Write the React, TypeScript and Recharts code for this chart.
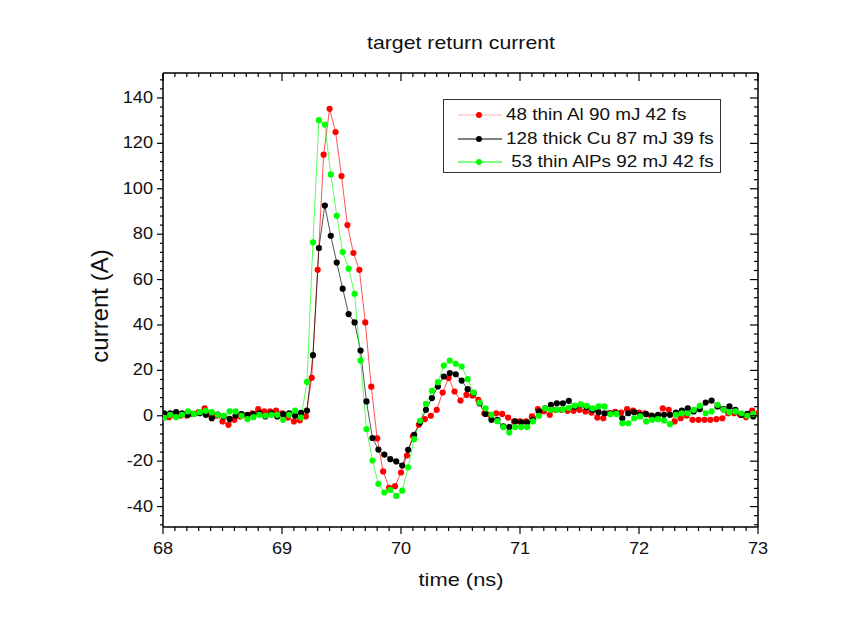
import { LineChart, Line, XAxis, YAxis, Legend } from 'recharts'

// sampling grid of the scope traces (ns)
const T_STEP = 0.05
const T0_AL = 68.0
const T0_SHOTS = 68.01

// shot 48: thin Al, 90 mJ, 42 fs
const currentAl = [
  -0.3, -0.6, 0, 0.1, 0.1, 0.8, 1.6, 3.3, 0.4, 0,
  -2.5, -4, -1.8, -0.3, 0.1, 1.1, 2.9, 1.9, 1.9, 2.3,
  1.1, -0.8, -2.5, -2, -0.3, 16.7, 64.3, 115, 135.2, 125,
  105.6, 84, 71.7, 64.3, 41.1, 12.8, -10, -24.5, -31.7, -31,
  -25, -17.5, -9, -4, -1.5, 0, 2.6, 10.2, 16.6, 10.7,
  6.7, 9.2, 8.9, 7, 1.1, 0.4, 1.1, 0.8, -0.8, -2.5,
  -2.5, -2.5, -0.3, 2.9, 2, 0.4, 2.6, 2.6, 2.2, 2.2,
  2.6, 1.9, 1.4, -0.8, -1.1, 1.1, 1.7, 1.4, 2.9, 2.3,
  1.4, 1.1, 0.1, -0.6, 3.3, 2.6, -2.5, -1.1, 0.1, -1.8,
  -1.8, -1.8, -1.8, -1.5, -1.1, 1.1, 1.1, 0.4, -0.6, 2.3,
  1.1,
]

// shot 128: thick Cu, 87 mJ, 39 fs
const currentCu = [
  1.1, 1.1, 1.6, 1.1, 0.4, 0.8, 1.1, 0.4, -1.1, 0.5,
  -0.3, -1.4, 0.1, 0.7, 0.4, 0.7, 1.1, -0.3, 1.1, -0.3,
  0.7, 1.1, 0, 1.3, 2.3, 26.7, 73.9, 92.6, 79.3, 67.5,
  56, 44.8, 41.1, 28.7, 6.3, -9.8, -14.9, -17.1, -19.1, -20.1,
  -21.9, -15, -8.4, -3, 2.6, 7.8, 12.9, 17.3, 18.8, 18.3,
  15.5, 11.7, 10, 5.5, 0.8, -1.8, -1.8, -4.7, -5, -2.5,
  -2.9, -2.9, -1.8, 1.9, 3.3, 4.8, 5.5, 5.5, 6.6, 4,
  4.8, 3.8, 2.6, 1.6, 1.1, 1.1, 1.1, -1.1, 1.1, 1.6,
  0.4, 0.7, 0, 0.4, 0.4, 0.4, 1.4, 2.3, 3.3, 1.9,
  2.9, 5.8, 6.7, 4.1, 2.9, 4.1, 2.6, 0.4, 0.8, -0.3,
]

// shot 53: thin AlPs, 92 mJ, 42 fs
const currentAlPs = [
  -0.9, 0.4, -0.6, 0.4, 1.9, 0.8, 1.6, 2.2, 1.6, 0.4,
  0, 1.9, 1.9, 0, -1.5, -0.6, 0.4, 0, 0.4, 0.4,
  -1.8, 0.4, 2.3, -0.8, 14.9, 76.4, 130.2, 128.3, 106.3, 88.1,
  72.1, 64.8, 53.7, 24.3, -5.9, -19.7, -30, -33.8, -32.7, -35.3,
  -33, -22.7, -10.3, -2.2, 5.2, 11, 14.8, 22.1, 24.3, 22.9,
  21.7, 16.1, 10.2, 5.8, 3.3, 0.4, -2.4, -5, -7.4, -5,
  -5, -5, -2.5, 0, 3.3, 2.6, 2.6, 2.8, 3.5, 4.5,
  5, 4.4, 3.3, 4.1, 4.1, 0.7, 0.8, -3.3, -3.3, -1.1,
  -0.3, -2.5, -1.8, -1.5, -2.1, -3.7, 0.4, 1.1, 1.1, 2.6,
  4.4, 1.1, 1.9, 4.8, 2.6, 1.6, 1.9, 1.1, 0, 0.8,
]

const X_DOMAIN: [number, number] = [68, 73]
const Y_DOMAIN: [number, number] = [-49, 151]
const X_MAJOR = [68, 69, 70, 71, 72, 73]
const Y_MAJOR = [-40, -20, 0, 20, 40, 60, 80, 100, 120, 140]
const X_MINOR_STEP = 0.1
const Y_MINOR_STEP = 4

const xTicks = Array.from({ length: 51 }, (_, i) => +(X_DOMAIN[0] + i * X_MINOR_STEP).toFixed(1))
const yTicks = Array.from({ length: 50 }, (_, i) => -48 + i * Y_MINOR_STEP)

const toSeries = (t0: number, values: number[]) =>
  values.map((v, i) => ({ t: +(t0 + i * T_STEP).toFixed(3), v }))

const SERIES = [
  { name: '48 thin Al 90 mJ 42 fs', color: '#ff0000', legendLine: 'rgba(255,0,0,0.3)', data: toSeries(T0_AL, currentAl) },
  { name: '128 thick Cu 87 mJ 39 fs', color: '#000000', legendLine: '#000000', data: toSeries(T0_SHOTS, currentCu) },
  { name: ' 53 thin AlPs 92 mJ 42 fs', color: '#00ff00', legendLine: '#00ff00', data: toSeries(T0_SHOTS, currentAlPs) },
]

const FONT = "'Liberation Sans', Arial, sans-serif"
const STRETCH = 1.15
const INK = '#111'

type TickProps = { x: number; y: number; payload: { value: number } }

const isMajorX = (v: number) => X_MAJOR.some((m) => Math.abs(m - v) < 1e-6)
const isMajorY = (v: number) => Y_MAJOR.includes(v)

const tickText = (x: number, y: number, anchor: 'end' | 'middle', label: number) => (
  <text
    transform={`translate(${x},${y}) scale(${STRETCH},1)`}
    textAnchor={anchor}
    dominantBaseline="central"
    fontFamily={FONT}
    fontSize={15.8}
    fill={INK}
  >
    {label}
  </text>
)

function BottomTick({ x, y, payload }: TickProps) {
  const major = isMajorX(payload.value)
  return (
    <g>
      <line x1={x} y1={y} x2={x} y2={y + (major ? 7 : 4)} stroke="#000" strokeWidth={1.2} />
      {major && tickText(x, y + 22, 'middle', payload.value)}
    </g>
  )
}

function TopTick({ x, y, payload }: TickProps) {
  const major = isMajorX(payload.value)
  return <line x1={x} y1={y} x2={x} y2={y + (major ? 8 : 4)} stroke="#000" strokeWidth={1.2} />
}

function LeftTick({ x, y, payload }: TickProps) {
  const major = isMajorY(payload.value)
  return (
    <g>
      <line x1={x} y1={y} x2={x - (major ? 6 : 3)} y2={y} stroke="#000" strokeWidth={1.2} />
      {major && tickText(x - 10, y, 'end', payload.value)}
    </g>
  )
}

function RightTick({ x, y, payload }: TickProps) {
  const major = isMajorY(payload.value)
  return <line x1={x} y1={y} x2={x - (major ? 8 : 4)} y2={y} stroke="#000" strokeWidth={1.2} />
}

function LegendBox() {
  return (
    <div
      style={{
        position: 'relative',
        width: 278,
        height: 74,
        boxSizing: 'border-box',
        border: '1px solid #333',
        background: '#fff',
        fontFamily: FONT,
      }}
    >
      {SERIES.map((s, i) => (
        <div
          key={s.name}
          style={{
            position: 'absolute',
            left: 0,
            top: 15 + i * 23.7 - 12,
            height: 24,
            display: 'flex',
            alignItems: 'center',
          }}
        >
          <svg width={62} height={12} style={{ display: 'block' }}>
            <line x1={14} y1={6} x2={58} y2={6} stroke={s.legendLine} strokeWidth={1} />
            <circle cx={35} cy={6} r={3} fill={s.color} />
          </svg>
          <span
            style={{
              display: 'inline-block',
              whiteSpace: 'pre',
              fontSize: 16,
              color: INK,
              transform: 'scaleX(1.18)',
              transformOrigin: 'left center',
            }}
          >
            {s.name}
          </span>
        </div>
      ))}
    </div>
  )
}

const labelStyle = (left: number, top: number, size: number, transform: string): React.CSSProperties => ({
  position: 'absolute',
  left,
  top,
  fontFamily: FONT,
  fontSize: size,
  color: INK,
  whiteSpace: 'nowrap',
  transform: `translate(-50%, -50%) ${transform}`,
})

export default function App() {
  return (
    <div style={{ position: 'relative', width: 846, height: 607, background: '#fff' }}>
      <div style={labelStyle(453, 35, 18.5, `scaleX(${STRETCH})`)}>target return current</div>
      <div style={labelStyle(453, 572, 19, `scaleX(${STRETCH})`)}>time (ns)</div>
      <div style={labelStyle(92, 298, 24, 'rotate(-90deg)')}>current (A)</div>
      <LineChart width={846} height={607} margin={{ top: 65, right: 96, bottom: 58, left: 95 }}>
        <XAxis
          xAxisId="bottom"
          type="number"
          dataKey="t"
          domain={X_DOMAIN}
          allowDataOverflow
          ticks={xTicks}
          interval={0}
          tickSize={0}
          tickMargin={0}
          tickLine={false}
          tick={(p: TickProps) => <BottomTick {...p} />}
          height={30}
          axisLine={{ stroke: '#000', strokeWidth: 1.5 }}
        />
        <XAxis
          xAxisId="top"
          orientation="top"
          mirror
          type="number"
          dataKey="t"
          domain={X_DOMAIN}
          allowDataOverflow
          ticks={xTicks}
          interval={0}
          tickSize={0}
          tickMargin={0}
          tickLine={false}
          tick={(p: TickProps) => <TopTick {...p} />}
          axisLine={{ stroke: '#000', strokeWidth: 1.5 }}
        />
        <YAxis
          yAxisId="left"
          type="number"
          domain={Y_DOMAIN}
          allowDataOverflow
          ticks={yTicks}
          interval={0}
          tickSize={0}
          tickMargin={0}
          tickLine={false}
          tick={(p: TickProps) => <LeftTick {...p} />}
          width={60}
          axisLine={{ stroke: '#000', strokeWidth: 1.5 }}
        />
        <YAxis
          yAxisId="right"
          orientation="right"
          mirror
          type="number"
          domain={Y_DOMAIN}
          allowDataOverflow
          ticks={yTicks}
          interval={0}
          tickSize={0}
          tickMargin={0}
          tickLine={false}
          tick={(p: TickProps) => <RightTick {...p} />}
          axisLine={{ stroke: '#000', strokeWidth: 1.5 }}
        />
        {SERIES.map((s) => (
          <Line
            key={s.name}
            xAxisId="bottom"
            yAxisId="left"
            data={s.data}
            dataKey="v"
            name={s.name}
            type="linear"
            stroke={s.color}
            strokeWidth={0.9}
            strokeOpacity={0.75}
            dot={{ r: 3.1, fill: s.color, stroke: 'none', fillOpacity: 1 }}
            activeDot={false}
            isAnimationActive={false}
          />
        ))}
        <Legend
          layout="vertical"
          align="center"
          verticalAlign="middle"
          content={() => <LegendBox />}
          wrapperStyle={{ left: 435, top: 91, width: 278, height: 74 }}
        />
      </LineChart>
    </div>
  )
}
